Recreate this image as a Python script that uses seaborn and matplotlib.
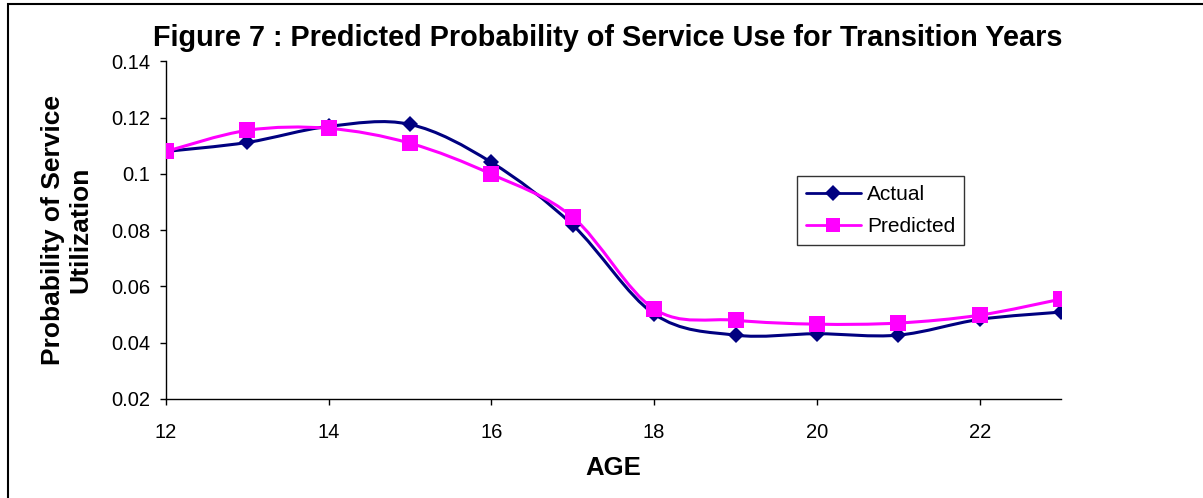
import numpy as np
import pandas as pd
import matplotlib
matplotlib.use("Agg")
import matplotlib.pyplot as plt
from matplotlib.path import Path
from matplotlib.patches import PathPatch, Rectangle
import seaborn as sns

# Data
ages = [12, 13, 14, 15, 16, 17, 18, 19, 20, 21, 22, 23]
actual = [0.108, 0.1112, 0.1169, 0.1176, 0.1041, 0.0818, 0.0502, 0.0427, 0.0432, 0.0427, 0.0483, 0.0509]
predicted = [0.108, 0.1155, 0.1162, 0.1109, 0.0999, 0.0846, 0.052, 0.048, 0.0466, 0.0470, 0.0498, 0.0555]
x_ticks = [12, 14, 16, 18, 20, 22]
y_ticks = [0.02, 0.04, 0.06, 0.08, 0.10, 0.12, 0.14]
y_tick_labels = ["0.02", "0.04", "0.06", "0.08", "0.1", "0.12", "0.14"]

df = pd.DataFrame({
    "AGE": ages * 2,
    "value": actual + predicted,
    "series": ["Actual"] * len(ages) + ["Predicted"] * len(ages),
})

colors = {"Actual": "#000080", "Predicted": "#FF00FF"}
markers = {"Actual": "D", "Predicted": "s"}
msizes = {"Actual": 8.5, "Predicted": 11}

sns.set_theme(style="white")
plt.rcParams["font.family"] = ["Liberation Sans", "DejaVu Sans"]
plt.rcParams["text.color"] = "#000000"
plt.rcParams["axes.labelcolor"] = "#000000"

W, H = 1203, 498
fig = plt.figure(figsize=(W / 100, H / 100), dpi=100)
ax_l, ax_r, ax_t, ax_b = 166, 1061, 61.4, 399
ax = fig.add_axes([ax_l / W, 1 - ax_b / H, (ax_r - ax_l) / W, (ax_b - ax_t) / H])


def smooth_path(xs, ys, tension=1 / 6):
    # Cardinal (Catmull-Rom) spline expressed as cubic Bezier segments
    xs = np.asarray(xs, float)
    ys = np.asarray(ys, float)
    n = len(xs)
    verts = [(xs[0], ys[0])]
    codes = [Path.MOVETO]
    for i in range(n - 1):
        i0 = max(i - 1, 0)
        i3 = min(i + 2, n - 1)
        c1 = (xs[i] + (xs[i + 1] - xs[i0]) * tension, ys[i] + (ys[i + 1] - ys[i0]) * tension)
        c2 = (xs[i + 1] - (xs[i3] - xs[i]) * tension, ys[i + 1] - (ys[i3] - ys[i]) * tension)
        verts += [c1, c2, (xs[i + 1], ys[i + 1])]
        codes += [Path.CURVE4] * 3
    return Path(verts, codes)


for name in ["Actual", "Predicted"]:
    sub = df[df["series"] == name]
    ax.add_patch(PathPatch(smooth_path(sub["AGE"], sub["value"]), facecolor="none",
                           edgecolor=colors[name], lw=2.2, zorder=2))
    sns.lineplot(data=sub, x="AGE", y="value", ax=ax, color=colors[name], lw=0,
                 marker=markers[name], markersize=msizes[name], markeredgewidth=0,
                 zorder=3, legend=False)

ax.set_xlim(12, 23)
ax.set_ylim(0.02, 0.14)
ax.set_xticks(x_ticks)
ax.set_xticklabels([str(t) for t in x_ticks], fontsize=14.5)
ax.set_yticks(y_ticks)
ax.set_yticklabels(y_tick_labels, fontsize=14.5)
ax.tick_params(axis="both", which="both", direction="out", length=4.5, width=1,
               color="#000000", left=True, bottom=True, labelcolor="#000000")
ax.tick_params(axis="y", pad=7)
ax.tick_params(axis="x", pad=13)
for side in ["top", "right"]:
    ax.spines[side].set_visible(False)
for side in ["left", "bottom"]:
    ax.spines[side].set_color("#000000")
    ax.spines[side].set_linewidth(1)

ax.set_xlabel("AGE", fontsize=18.5, fontweight="bold", labelpad=10)
ax.set_ylabel("Probability of Service\nUtilization", fontsize=19, fontweight="bold",
              labelpad=13, linespacing=1.2)
fig.text(608 / W, 1 - 38 / H, "Figure 7 : Predicted Probability of Service Use for Transition Years",
         ha="center", va="center", fontsize=20.8, fontweight="bold")

handles = [
    plt.Line2D([], [], color=colors[n], lw=2, marker=markers[n], markersize=msizes[n] * 0.95,
               markeredgewidth=0)
    for n in ["Actual", "Predicted"]
]
leg = ax.legend(handles, ["Actual", "Predicted"], loc="upper left",
                bbox_to_anchor=((797 - ax_l) / (ax_r - ax_l), 1 - (176 - ax_t) / (ax_b - ax_t)),
                fontsize=15, frameon=True, fancybox=False, edgecolor="#000000",
                handlelength=2.6, borderpad=0.45, labelspacing=0.6, handletextpad=0.3,
                borderaxespad=0)
leg.get_frame().set_linewidth(1)

# outer chart border
fig.add_artist(Rectangle((8 / W, -0.1), 1.2, 1 - 4 / H + 0.1, transform=fig.transFigure,
                         fill=False, edgecolor="#000000", lw=1.5))

fig.savefig("out.png", dpi=100)
